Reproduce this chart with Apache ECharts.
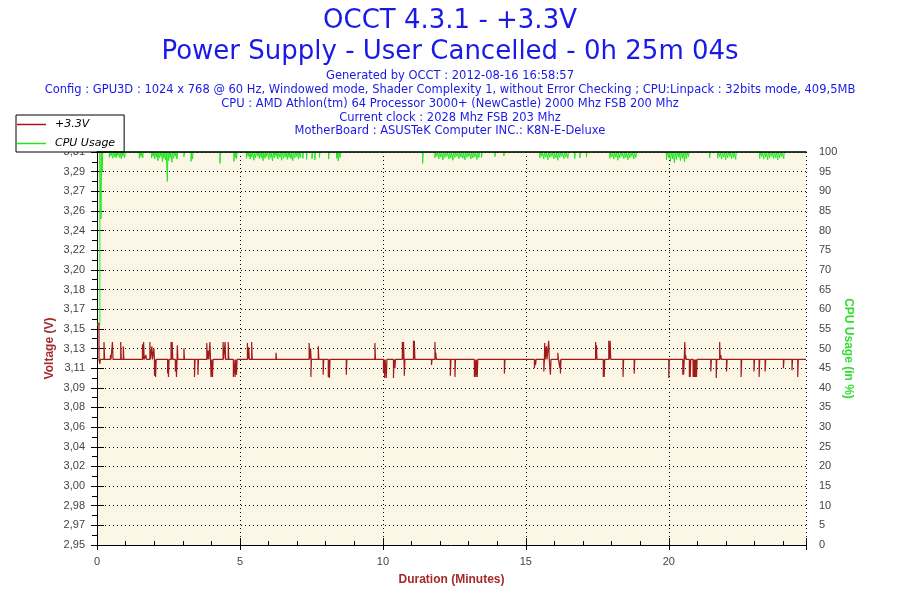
<!DOCTYPE html>
<html>
<head>
<meta charset="utf-8">
<script src="https://cdn.jsdelivr.net/npm/echarts@6/dist/echarts.min.js"></script>
<style>
  html, body { margin: 0; background: #fff; }
  #chart { width: 900px; height: 600px; }
</style>
</head>
<body>
<div id="chart"></div>
<script>
/* OCCT +3.3V voltage log, redrawn with ECharts */
const titleBig = ['OCCT 4.3.1 - +3.3V', 'Power Supply - User Cancelled - 0h 25m 04s'];
const titleSmall = [
  'Generated by OCCT : 2012-08-16 16:58:57',
  'Config : GPU3D : 1024 x 768 @ 60 Hz, Windowed mode, Shader Complexity 1, without Error Checking ; CPU:Linpack : 32bits mode, 409,5MB',
  'CPU : AMD Athlon(tm) 64 Processor 3000+ (NewCastle) 2000 Mhz FSB 200 Mhz',
  'Current clock : 2028 Mhz FSB 203 Mhz',
  'MotherBoard : ASUSTeK Computer INC.: K8N-E-Deluxe'
];

// left axis labels, bottom to top (as printed by OCCT)
const vLabels = ['2,95', '2,97', '2,98', '3,00', '3,02', '3,04', '3,06', '3,08', '3,09', '3,11',
  '3,13', '3,15', '3,17', '3,18', '3,20', '3,22', '3,24', '3,26', '3,27', '3,29', '3,31'];
const vMin = 2.95, vMax = 3.31;
const xMax = 24.8;          // minutes shown
const W = 0.02;             // width of one sample, minutes

// +3.3V rail: baseline and single-sample excursions [minute, volts]
const vBase = 3.12;
const voltStart = [[0, 3.153], [0.07, 3.153], [0.07, 3.12]];
const voltUp = [
  [0.245, 3.136], [0.47, 3.124], [0.54, 3.136], [0.83, 3.136], [0.92, 3.132],
  [1.59, 3.134], [1.63, 3.136], [1.71, 3.124], [1.85, 3.136], [1.92, 3.132], [1.99, 3.130],
  [2.59, 3.136], [2.63, 3.136], [2.81, 3.133], [3.04, 3.130], [3.84, 3.135], [3.89, 3.128],
  [3.95, 3.136], [4.41, 3.136], [4.48, 3.136], [4.59, 3.136], [5.26, 3.135], [5.31, 3.131],
  [5.41, 3.136], [6.26, 3.126], [7.42, 3.135], [7.47, 3.130], [7.74, 3.132], [9.72, 3.135],
  [10.68, 3.136], [10.72, 3.136], [11.07, 3.137], [11.10, 3.137], [11.82, 3.136], [11.85, 3.126],
  [15.66, 3.135], [15.72, 3.132], [15.80, 3.137], [16.12, 3.126], [17.44, 3.136], [17.47, 3.133],
  [17.90, 3.137], [17.95, 3.137], [20.56, 3.136], [20.59, 3.124], [21.78, 3.136], [21.82, 3.124]
];
const voltDown = [
  [0.10, 3.116], [2.01, 3.105], [2.05, 3.104], [2.47, 3.107], [2.50, 3.104], [2.74, 3.109],
  [2.78, 3.104], [3.41, 3.104], [3.53, 3.106], [3.99, 3.104], [4.04, 3.104], [4.77, 3.104],
  [4.83, 3.104], [4.88, 3.106], [7.48, 3.104], [7.91, 3.106], [8.09, 3.104], [8.13, 3.103],
  [8.72, 3.106], [10.02, 3.108], [10.06, 3.103], [10.12, 3.103], [10.37, 3.103], [10.42, 3.112],
  [10.75, 3.105], [11.70, 3.115], [12.36, 3.105], [12.52, 3.104], [13.20, 3.104], [13.25, 3.104],
  [13.30, 3.104], [14.25, 3.107], [15.30, 3.112], [15.34, 3.115], [15.63, 3.109], [15.86, 3.106],
  [16.19, 3.112], [16.21, 3.107], [17.71, 3.104], [17.74, 3.104], [18.40, 3.104], [18.79, 3.107],
  [20.00, 3.103], [20.49, 3.106], [20.52, 3.106], [20.72, 3.104], [20.75, 3.104],
  [20.85, 3.104], [20.87, 3.104], [20.89, 3.104], [20.91, 3.104], [20.93, 3.104], [20.95, 3.104],
  [20.97, 3.104], [21.47, 3.109], [21.66, 3.103], [22.02, 3.109], [22.53, 3.104], [22.98, 3.109],
  [23.16, 3.104], [23.37, 3.109], [24.01, 3.112], [24.31, 3.110], [24.51, 3.104]
];

// CPU usage: 100 % with short dips [minute, percent]
const cpuBase = 100;
const cpuStart = [[0, 56], [0.1, 56], [0.1, 100]];
const cpuDips = [
  [0.14, 83], [0.18, 95],
  [0.43, 98.6], [0.49, 99.0], [0.55, 98.4], [0.61, 98.8], [0.67, 98.5], [0.73, 99.1], [0.79, 98.6],
  [0.85, 98.3], [0.91, 98.9], [0.97, 98.6],
  [1.48, 98.4], [1.54, 98.8], [1.60, 98.5],
  [1.91, 98.5], [1.97, 98.9], [2.02, 98.2], [2.08, 98.7], [2.13, 97.8], [2.19, 98.5], [2.24, 98.9],
  [2.29, 97.5], [2.34, 98.4], [2.40, 98.0], [2.46, 92.5], [2.51, 97.8], [2.56, 98.6], [2.62, 97.4],
  [2.68, 98.4], [2.74, 98.9], [2.80, 98.2],
  [3.04, 98.8], [3.29, 97.6], [3.34, 98.2], [4.30, 97.1], [4.79, 97.6], [4.84, 98.6], [4.88, 98.3],
  [5.23, 98.4], [5.29, 98.9], [5.36, 98.2], [5.42, 98.7], [5.49, 97.9], [5.55, 98.5], [5.62, 99.0],
  [5.68, 98.3], [5.75, 98.6], [5.81, 97.8], [5.88, 98.4], [5.94, 98.9], [6.01, 98.1], [6.07, 98.6],
  [6.14, 97.7], [6.20, 98.5], [6.27, 98.9], [6.33, 98.2], [6.40, 98.7], [6.46, 97.9], [6.53, 98.4],
  [6.59, 98.8], [6.66, 98.1], [6.72, 98.6], [6.79, 98.3], [6.85, 97.8], [6.92, 98.5], [6.98, 98.9],
  [7.05, 98.2], [7.11, 98.6], [7.20, 98.4], [7.33, 98.1], [7.52, 98.3], [7.62, 98.0], [7.78, 98.6],
  [8.10, 98.2], [8.38, 98.4], [8.44, 97.7], [8.50, 98.6], [11.39, 97.1],
  [11.82, 98.5], [11.89, 98.9], [11.96, 98.3], [12.03, 98.7], [12.10, 98.0], [12.17, 98.6],
  [12.24, 98.9], [12.31, 98.2], [12.38, 98.5], [12.45, 97.9], [12.52, 98.6], [12.59, 98.9],
  [12.66, 98.3], [12.73, 98.7], [12.80, 98.4], [12.87, 98.0], [12.94, 98.6], [13.01, 98.9],
  [13.08, 98.2], [13.15, 98.5], [13.22, 98.8], [13.29, 98.1], [13.36, 98.6],
  [13.45, 98.6], [13.92, 98.8], [14.23, 99.0],
  [15.49, 98.5], [15.56, 98.9], [15.63, 98.2], [15.70, 98.7], [15.77, 98.0], [15.84, 98.6],
  [15.91, 98.9], [15.98, 98.3], [16.05, 98.5], [16.12, 97.9], [16.19, 98.6], [16.26, 98.9],
  [16.33, 98.3], [16.40, 98.7], [16.47, 98.4], [16.71, 98.3], [16.89, 98.5], [17.12, 98.7],
  [17.94, 98.4], [18.01, 98.8], [18.08, 98.2], [18.15, 98.7], [18.22, 97.9], [18.29, 98.5],
  [18.36, 98.9], [18.43, 98.3], [18.50, 98.6], [18.57, 98.0], [18.64, 98.5], [18.71, 98.9],
  [18.78, 98.2], [18.85, 98.6],
  [19.92, 98.0], [19.99, 98.6], [20.06, 97.6], [20.13, 98.3], [20.20, 97.2], [20.27, 98.1],
  [20.34, 98.7], [20.41, 97.8], [20.48, 98.4], [20.55, 97.5], [20.62, 98.2], [20.69, 98.8],
  [21.43, 98.5],
  [21.71, 98.4], [21.78, 98.8], [21.85, 98.2], [21.92, 98.7], [21.99, 98.0], [22.06, 98.5],
  [22.13, 98.9], [22.20, 98.3], [22.27, 98.6], [22.34, 98.1],
  [23.18, 98.4], [23.25, 98.9], [23.32, 98.2], [23.39, 98.7], [23.46, 98.0], [23.53, 98.5],
  [23.60, 98.9], [23.67, 98.3], [23.74, 98.6], [23.81, 98.0], [23.88, 98.5], [23.95, 98.9],
  [24.02, 98.3]
];

const RED = '#a01a1a', GREEN = '#22e622', BLUE = '#1a1ae6';

// each excursion is one sample wide: base -> value -> base
function build(start, base, spikes) {
  const pts = start.slice();
  spikes.slice().sort((a, b) => a[0] - b[0]).forEach(([t, v]) => {
    pts.push([t, base], [t, v], [t + W, v], [t + W, base]);
  });
  pts.push([xMax, base]);
  return pts;
}
const voltData = build(voltStart, vBase, voltUp.concat(voltDown));
const cpuData = build(cpuStart, cpuBase, cpuDips);

const chart = echarts.init(document.getElementById('chart'), null, { renderer: 'canvas' });

const tickFont = { color: '#444', fontSize: 11, fontFamily: 'Liberation Sans, Arial, sans-serif' };
const black = { color: '#000', width: 1 };
const dotted = { show: true, lineStyle: { color: '#000', width: 1, type: [1, 3] } };
const none = { show: false };
const nameFont = (c) => ({ color: c, fontWeight: 'bold', fontSize: 12, fontFamily: 'Liberation Sans' });

const graphic = [];
titleBig.forEach((t, i) => graphic.push({
  type: 'text', x: 450, y: 21 + i * 31,
  style: { text: t, align: 'center', verticalAlign: 'middle', fill: BLUE, font: '26px "DejaVu Sans"' }
}));
titleSmall.forEach((t, i) => graphic.push({
  type: 'text', x: 450, y: 76.5 + i * 13.7,
  style: { text: t, align: 'center', verticalAlign: 'middle', fill: BLUE, font: '11.5px "DejaVu Sans"' }
}));

chart.setOption({
  animation: false,
  backgroundColor: '#fff',
  graphic,
  legend: {
    left: 16, top: 115, orient: 'vertical',
    itemWidth: 29, itemHeight: 1.5, itemGap: 8,
    padding: [4, 9, 3, 1],
    borderColor: '#000', borderWidth: 1, borderRadius: 0, backgroundColor: '#fff',
    textStyle: { color: '#000', fontStyle: 'italic', fontSize: 11, fontFamily: 'DejaVu Sans', padding: [0, 0, 0, 4] },
    data: [{ name: '+3.3V', icon: 'rect' }, { name: 'CPU Usage', icon: 'rect' }]
  },
  grid: { left: 97, right: 94, top: 152, bottom: 55, show: true, backgroundColor: '#fcf6e6', borderWidth: 0 },
  xAxis: [
    { type: 'value', position: 'bottom', min: 0, max: xMax, interval: 5,
      axisLine: { show: true, lineStyle: black }, axisTick: { length: 5, lineStyle: black },
      axisLabel: Object.assign({ margin: 11, formatter: (v) => (v % 5 === 0 ? String(v) : '') }, tickFont),
      splitLine: dotted,
      name: 'Duration (Minutes)', nameLocation: 'middle', nameGap: 29, nameMoveOverlap: false,
      nameTextStyle: nameFont('#a52a2a') },
    { type: 'value', position: 'bottom', min: 0, max: xMax, interval: 1,
      axisLine: none, axisLabel: none, splitLine: none,
      axisTick: { inside: true, length: 4, lineStyle: black } },
    { type: 'value', position: 'bottom', min: 0, max: xMax, interval: 5,
      axisLine: none, axisLabel: none, splitLine: none,
      axisTick: { inside: true, length: 7, lineStyle: black } },
    // plot frame top edge, kept above the 100 % CPU line
    { type: 'value', position: 'top', min: 0, max: xMax, zlevel: 1, z: 20,
      axisLine: { show: true, onZero: false, lineStyle: { color: '#000', width: 1.5 } },
      axisTick: none, axisLabel: none, splitLine: none }
  ],
  yAxis: [
    { type: 'value', position: 'left', min: 0, max: 20, interval: 1,
      axisLine: { show: true, lineStyle: black },
      axisTick: { length: 6, lineStyle: black },
      minorTick: { show: true, splitNumber: 2, length: 4, lineStyle: black },
      axisLabel: Object.assign({ margin: 12, formatter: (i) => vLabels[Math.round(i)] || '' }, tickFont),
      splitLine: dotted,
      name: 'Voltage (V)', nameLocation: 'middle', nameGap: 41, nameMoveOverlap: false,
      nameTextStyle: nameFont('#a52a2a') },
    { type: 'value', position: 'right', min: 0, max: 100, interval: 5,
      axisLine: { show: true, lineStyle: black },
      axisTick: { length: 7, lineStyle: black },
      axisLabel: Object.assign({ margin: 13 }, tickFont),
      splitLine: none,
      name: 'CPU Usage (in %)', nameLocation: 'middle', nameGap: 36, nameRotate: -90, nameMoveOverlap: false,
      nameTextStyle: nameFont('#33dd33') },
    { type: 'value', position: 'left', min: 0, max: 20, interval: 1,
      axisLine: none, axisLabel: none, splitLine: none,
      axisTick: { inside: true, length: 6, lineStyle: black } },
    { type: 'value', position: 'right', min: 0, max: 100, interval: 5,
      axisLine: none, axisLabel: none, splitLine: none,
      axisTick: { inside: true, length: 6, lineStyle: black },
      minorTick: { show: true, splitNumber: 2, length: 5, lineStyle: black } },
    { type: 'value', min: vMin, max: vMax, show: false }
  ],
  series: [
    { name: 'CPU Usage', type: 'line', xAxisIndex: 0, yAxisIndex: 1, data: cpuData, z: 2,
      showSymbol: false, symbol: 'none', color: GREEN, lineStyle: { color: GREEN, width: 1 } },
    { name: '+3.3V', type: 'line', xAxisIndex: 0, yAxisIndex: 4, data: voltData, z: 3,
      showSymbol: false, symbol: 'none', color: RED, lineStyle: { color: RED, width: 1.2 } }
  ]
});
</script>
</body>
</html>
